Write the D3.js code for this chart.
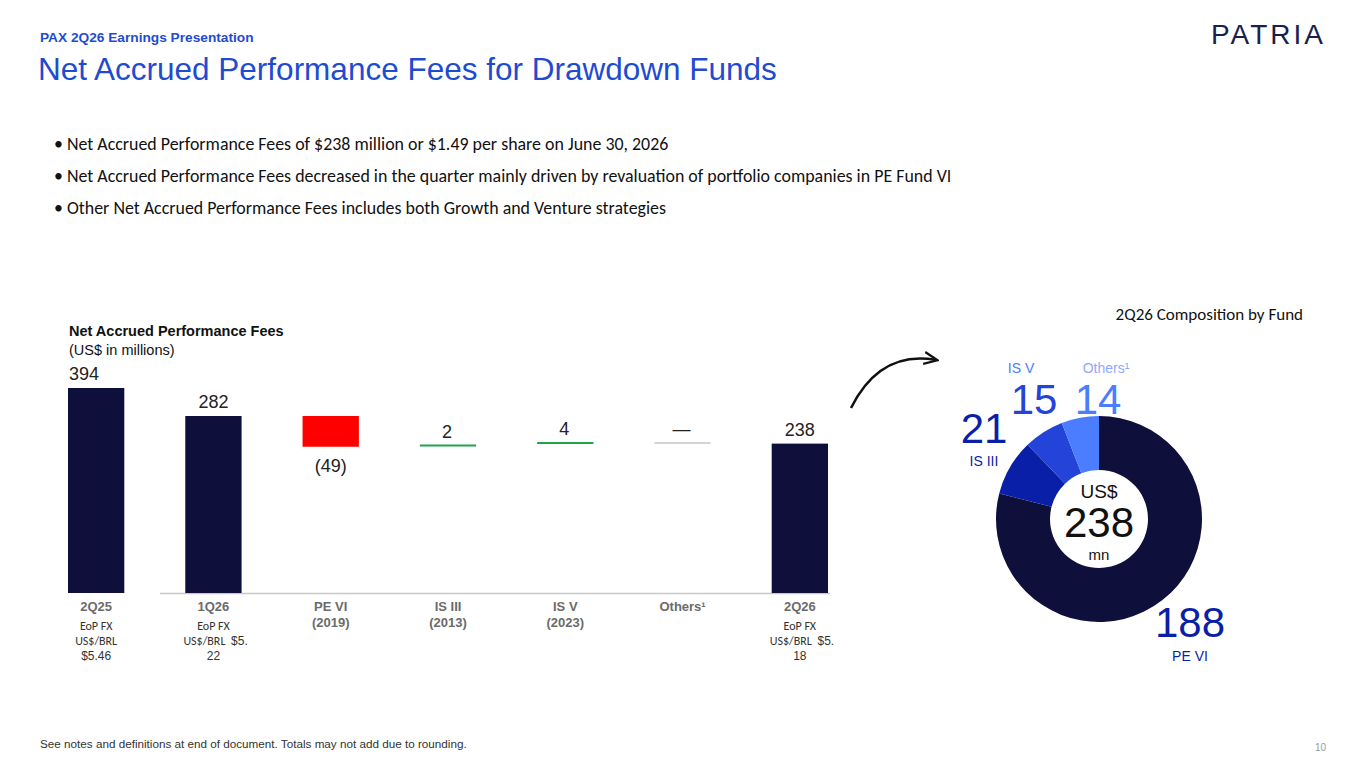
<!DOCTYPE html>
<html>
<head>
<meta charset="utf-8">
<script src="https://cdn.jsdelivr.net/npm/d3@7"></script>
<style>
body { margin: 0; background: #fff; }
svg { display: block; }
text { font-family: Arial, "Liberation Sans", sans-serif; }
.body { font-family: Calibri, Carlito, "Open Sans", sans-serif; }
</style>
</head>
<body>
<svg id="chart" width="1365" height="767"></svg>
<script>
const categories = ['2Q25', '1Q26', 'PE VI', 'IS III', 'IS V', 'Others¹', '2Q26'];
const years = ['', '', '(2019)', '(2013)', '(2023)', '', ''];
const changes = [394, 282, -49, 2, 4, 0, 238];
const valueLabels = ['394', '282', '(49)', '2', '4', '—', '238'];
const barKinds = ['total', 'total', 'delta', 'delta', 'delta', 'delta', 'total'];
const fxRates = ['$5.46', '$5.22', '', '', '', '', '$5.18'];

const funds = ['PE VI', 'IS III', 'IS V', 'Others¹'];
const fundValues = [188, 21, 15, 14];
const fundColors = ['#0f0f3c', '#0a1fa8', '#2443d8', '#4a7dff'];

const bullets = [
    'Net Accrued Performance Fees of $238 million or $1.49 per share on June 30, 2026',
    'Net Accrued Performance Fees decreased in the quarter mainly driven by revaluation of portfolio companies in PE Fund VI',
    'Other Net Accrued Performance Fees includes both Growth and Venture strategies'
];

const svg = d3.select('#chart');
const navy = '#0f0f3c';
const blue = '#1f4bd1';

// header
svg.append('text').attr('x', 40).attr('y', 42).attr('fill', blue)
    .attr('font-size', 13.7).attr('font-weight', 'bold').text('PAX 2Q26 Earnings Presentation');
svg.append('text').attr('x', 38).attr('y', 80).attr('fill', blue)
    .attr('font-size', 31.5).text('Net Accrued Performance Fees for Drawdown Funds');
svg.append('text').attr('x', 1326).attr('y', 44).attr('text-anchor', 'end').attr('fill', '#1a1f4d')
    .attr('font-size', 28).attr('letter-spacing', 3).text('PATRIA');

svg.selectAll('.bullet').data(bullets).join('text')
    .attr('class', 'body')
    .attr('x', 54).attr('y', (d, i) => 150 + i * 32)
    .attr('font-size', 17.9).attr('fill', '#111')
    .text(d => '• ' + d);

svg.append('text').attr('x', 69).attr('y', 336).attr('font-size', 14.5).attr('font-weight', 'bold')
    .attr('fill', '#111').text('Net Accrued Performance Fees');
svg.append('text').attr('x', 69).attr('y', 355).attr('font-size', 14.5)
    .attr('fill', '#111').text('(US$ in millions)');

// waterfall
const x = d3.scaleBand().domain(categories).range([68, 828]).paddingInner(0.52).paddingOuter(0);
const y = d3.scaleLinear().domain([0, 282]).range([593, 416]);
const yFirst = d3.scaleLinear().domain([0, 394]).range([593, 388]);

let running = 0;
const bars = changes.map((v, i) => {
    let y0, y1;
    if (barKinds[i] === 'total') { y0 = 0; y1 = v; running = v; }
    else { y0 = running; y1 = running + v; running = y1; }
    return { cat: categories[i], v, y0, y1, kind: barKinds[i], label: valueLabels[i], i };
});

svg.append('line').attr('x1', 160).attr('x2', 830).attr('y1', 593.5).attr('y2', 593.5)
    .attr('stroke', '#c8c8c8').attr('stroke-width', 1.5);

bars.forEach(b => {
    const sc = b.i === 0 ? yFirst : y;
    const top = sc(Math.max(b.y0, b.y1));
    const bot = sc(Math.min(b.y0, b.y1));
    const xx = x(b.cat), w = x.bandwidth();
    if (b.kind === 'total') {
        svg.append('rect').attr('x', xx).attr('y', top).attr('width', w).attr('height', bot - top).attr('fill', navy);
        svg.append('text').attr('x', xx + (b.i === 0 ? 16 : w / 2)).attr('y', top - 8)
            .attr('text-anchor', 'middle').attr('font-size', 18).attr('fill', '#222').text(b.label);
    } else if (b.v < 0) {
        svg.append('rect').attr('x', xx).attr('y', top).attr('width', w).attr('height', bot - top).attr('fill', '#ff0000');
        svg.append('text').attr('x', xx + w / 2).attr('y', bot + 25).attr('text-anchor', 'middle')
            .attr('font-size', 18).attr('fill', '#222').text(b.label);
    } else {
        const col = b.v > 0 ? '#1fa34a' : '#aaaaaa';
        svg.append('line').attr('x1', xx).attr('x2', xx + w).attr('y1', top).attr('y2', top)
            .attr('stroke', col).attr('stroke-width', b.v > 0 ? 2 : 1);
        svg.append('text').attr('x', xx + w / 2 - 1).attr('y', top - 8).attr('text-anchor', 'middle')
            .attr('font-size', 18).attr('fill', '#222').text(b.label);
    }
});

// category labels
categories.forEach((c, i) => {
    const cx = x(c) + x.bandwidth() / 2;
    svg.append('text').attr('x', cx).attr('y', 611).attr('text-anchor', 'middle')
        .attr('font-size', 13).attr('font-weight', 'bold').attr('fill', '#6b6b6b').text(c);
    if (years[i]) svg.append('text').attr('x', cx).attr('y', 627).attr('text-anchor', 'middle')
        .attr('font-size', 13).attr('font-weight', 'bold').attr('fill', '#6b6b6b').text(years[i]);
    if (fxRates[i]) {
        const g = svg.append('g').attr('font-size', 12).attr('fill', '#333');
        g.append('text').attr('class', 'body').attr('x', cx).attr('y', 630).attr('text-anchor', 'middle').text('EoP FX');
        if (i === 0) {
            g.append('text').attr('class', 'body').attr('x', cx).attr('y', 645).attr('text-anchor', 'middle').text('US$/BRL');
            g.append('text').attr('x', cx).attr('y', 660).attr('text-anchor', 'middle').text(fxRates[i]);
        } else {
            g.append('text').attr('class', 'body').attr('x', cx - 9).attr('y', 645).attr('text-anchor', 'middle').text('US$/BRL');
            g.append('text').attr('x', cx + 26).attr('y', 645).attr('text-anchor', 'middle').text(fxRates[i].slice(0, 3));
            g.append('text').attr('x', cx).attr('y', 660).attr('text-anchor', 'middle').text(fxRates[i].slice(3));
        }
    }
});

// donut
svg.append('text').attr('class', 'body').attr('x', 1303).attr('y', 320).attr('text-anchor', 'end')
    .attr('font-size', 17).attr('fill', '#111').text('2Q26 Composition by Fund');

const cx = 1099, cy = 519;
const pie = d3.pie().sort(null).startAngle(0).endAngle(2 * Math.PI);
const arcs = pie(fundValues);
const arc = d3.arc().innerRadius(49).outerRadius(103);
const dg = svg.append('g').attr('transform', `translate(${cx},${cy})`);
dg.selectAll('path').data(arcs).join('path').attr('d', arc).attr('fill', (d, i) => fundColors[i]);
dg.append('text').attr('y', -21).attr('text-anchor', 'middle').attr('font-size', 19).attr('fill', '#111').text('US$');
dg.append('text').attr('y', 18).attr('text-anchor', 'middle').attr('font-size', 42).attr('fill', '#111').text('238');
dg.append('text').attr('y', 41).attr('text-anchor', 'middle').attr('font-size', 15).attr('fill', '#111').text('mn');

const fundLabelPos = [
    { vx: 1190, vy: 637, lx: 1190, ly: 661 },
    { vx: 984, vy: 443, lx: 984, ly: 466 },
    { vx: 1034, vy: 414, lx: 1021, ly: 373 },
    { vx: 1098, vy: 414, lx: 1106, ly: 373 }
];
const valueColors = ['#0a1fa8', '#0a1fa8', '#2443d8', '#4a7dff'];
const nameColors = ['#0a1fa8', '#0a1fa8', '#4a7dff', '#8fa8ff'];
funds.forEach((f, i) => {
    const p = fundLabelPos[i];
    svg.append('text').attr('x', p.vx).attr('y', p.vy).attr('text-anchor', 'middle')
        .attr('font-size', 42).attr('fill', valueColors[i]).text(fundValues[i]);
    svg.append('text').attr('x', p.lx).attr('y', p.ly).attr('text-anchor', 'middle')
        .attr('font-size', 14).attr('fill', nameColors[i]).text(f);
});

// arrow
svg.append('defs').append('marker').attr('id', 'arr').attr('viewBox', '0 -5 10 10')
    .attr('refX', 8).attr('refY', 0).attr('markerWidth', 6).attr('markerHeight', 6).attr('orient', 'auto')
    .append('path').attr('d', 'M0,-4L9,0L0,4').attr('fill', 'none').attr('stroke', '#111').attr('stroke-width', 1.5);
svg.append('path').attr('d', 'M851,408 Q880,350 936,360').attr('fill', 'none')
    .attr('stroke', '#111').attr('stroke-width', 2.5).attr('marker-end', 'url(#arr)');

// footer
svg.append('text').attr('x', 40).attr('y', 748).attr('font-size', 11.7).attr('fill', '#333')
    .text('See notes and definitions at end of document. Totals may not add due to rounding.');
svg.append('text').attr('x', 1326).attr('y', 751).attr('text-anchor', 'end').attr('font-size', 10).attr('fill', '#999').text('10');
</script>
</body>
</html>
